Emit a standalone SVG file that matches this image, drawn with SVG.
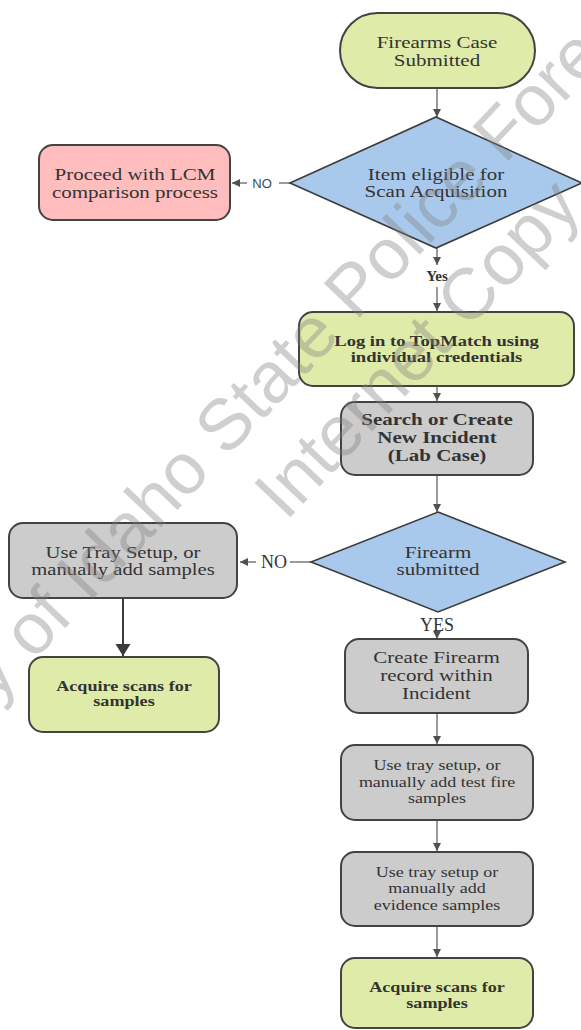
<svg xmlns="http://www.w3.org/2000/svg" width="581" height="1030" viewBox="0 0 581 1030">
<defs>
<style>
.box{stroke:#434343;stroke-width:2}
.green{fill:#dfeba8}
.gray{fill:#cccccc}
.pink{fill:#ffbdbd}
.blue{fill:#a9c9ec;stroke:#3c3c3c;stroke-width:1.6}
.t{font-family:"Liberation Serif","Times New Roman",serif;fill:#333;text-anchor:middle}
.b{font-weight:bold}
.con{stroke:#707070;stroke-width:1.4;fill:none}
.lab{font-family:"Liberation Serif","Times New Roman",serif;fill:#333;text-anchor:middle}
.wm{font-family:"Liberation Sans",Arial,sans-serif;font-size:72px;fill:#808080;fill-opacity:0.38}
</style>
<marker id="ah" markerWidth="10" markerHeight="10" refX="8" refY="4" orient="auto" markerUnits="userSpaceOnUse">
<path d="M0,0 L8,4 L0,8 Z" fill="#505050"/>
</marker>
<marker id="ahb" markerWidth="16" markerHeight="16" refX="12" refY="7.5" orient="auto" markerUnits="userSpaceOnUse">
<path d="M0,0 L12,7.5 L0,15 Z" fill="#3a3a3a"/>
</marker>
</defs>
<rect width="581" height="1030" fill="#ffffff"/>

<g id="connectors">
<line class="con" x1="437" y1="88" x2="437" y2="117" marker-end="url(#ah)"/>
<line class="con" x1="291" y1="183" x2="279" y2="183"/>
<line class="con" x1="247" y1="183" x2="232" y2="183" marker-end="url(#ah)"/>
<text class="lab" x="262" y="188" style="font-family:'Liberation Sans',Arial,sans-serif;font-size:13px;fill:#2f4a6a">NO</text>
<line class="con" x1="437" y1="248" x2="437" y2="265" marker-end="url(#ah)"/>
<text class="lab b" x="437" y="281" style="font-size:15px">Yes</text>
<line class="con" x1="437" y1="287" x2="437" y2="311" marker-end="url(#ah)"/>
<line class="con" x1="437" y1="386" x2="437" y2="401" marker-end="url(#ah)"/>
<line class="con" x1="437" y1="475" x2="437" y2="512" marker-end="url(#ah)"/>
<line class="con" x1="311" y1="562" x2="290" y2="562"/>
<line class="con" x1="256" y1="562" x2="240" y2="562" marker-end="url(#ah)"/>
<text class="lab" x="274" y="568" style="font-size:18px">NO</text>
<line x1="123" y1="598" x2="123" y2="656" stroke="#3a3a3a" stroke-width="2" marker-end="url(#ahb)"/>
<text class="lab" x="437" y="631" style="font-size:18px">YES</text>
<line class="con" x1="437" y1="632" x2="437" y2="639" marker-end="url(#ah)"/>
<line class="con" x1="437" y1="713" x2="437" y2="744" marker-end="url(#ah)"/>
<line class="con" x1="437" y1="820" x2="437" y2="851" marker-end="url(#ah)"/>
<line class="con" x1="437" y1="926" x2="437" y2="957" marker-end="url(#ah)"/>
</g>

<g id="start">
<rect class="box green" x="340" y="13" width="195" height="75" rx="37.5"/>
<g transform="translate(437 0) scale(1.2 1)">
<text class="t" x="0" y="48" font-size="17.5">Firearms Case</text>
<text class="t" x="0" y="66" font-size="17.5">Submitted</text>
</g>
</g>

<g id="eligible">
<polygon class="blue" points="436,117 582,183 436,248 290,183"/>
<g transform="translate(436 0) scale(1.2 1)">
<text class="t" x="0" y="180" font-size="17.5">Item eligible for</text>
<text class="t" x="0" y="197" font-size="17.5">Scan Acquisition</text>
</g>
</g>

<g id="lcm">
<rect class="box pink" x="39" y="145" width="191" height="75" rx="14"/>
<g transform="translate(135 0) scale(1.2 1)">
<text class="t" x="0" y="180" font-size="17.5">Proceed with LCM</text>
<text class="t" x="0" y="198" font-size="17.5">comparison process</text>
</g>
</g>

<g id="login">
<rect class="box green" x="299" y="312" width="275" height="74" rx="14"/>
<g transform="translate(436.5 0) scale(1.2 1)">
<text class="t b" x="0" y="346" font-size="15.5">Log in to TopMatch using</text>
<text class="t b" x="0" y="362" font-size="15.5">individual credentials</text>
</g>
</g>

<g id="search">
<rect class="box gray" x="341" y="402" width="192" height="73" rx="14"/>
<g transform="translate(437 0) scale(1.2 1)">
<text class="t b" x="0" y="425" font-size="17.5">Search or Create</text>
<text class="t b" x="0" y="443" font-size="17.5">New Incident</text>
<text class="t b" x="0" y="461" font-size="17.5">(Lab Case)</text>
</g>
</g>

<g id="firearm-submitted">
<polygon class="blue" points="438,512 565,562 438,612 311,562"/>
<g transform="translate(438 0) scale(1.2 1)">
<text class="t" x="0" y="558" font-size="17.5">Firearm</text>
<text class="t" x="0" y="575" font-size="17.5">submitted</text>
</g>
</g>

<g id="tray-left">
<rect class="box gray" x="9" y="523" width="228" height="75" rx="14"/>
<g transform="translate(123 0) scale(1.18 1)">
<text class="t" x="0" y="558" font-size="17.5">Use Tray Setup, or</text>
<text class="t" x="0" y="575" font-size="17.5">manually add samples</text>
</g>
</g>

<g id="acquire-left">
<rect class="box green" x="29" y="657" width="190" height="75" rx="14"/>
<g transform="translate(124 0) scale(1.21 1)">
<text class="t b" x="0" y="691" font-size="15">Acquire scans for</text>
<text class="t b" x="0" y="706" font-size="15">samples</text>
</g>
</g>

<g id="create-firearm">
<rect class="box gray" x="345" y="639" width="183" height="74" rx="14"/>
<g transform="translate(436.5 0) scale(1.2 1)">
<text class="t" x="0" y="663" font-size="17.5">Create Firearm</text>
<text class="t" x="0" y="681" font-size="17.5">record within</text>
<text class="t" x="0" y="699" font-size="17.5">Incident</text>
</g>
</g>

<g id="tray-test-fire">
<rect class="box gray" x="341" y="745" width="192" height="75" rx="14"/>
<g transform="translate(437 0) scale(1.2 1)">
<text class="t" x="0" y="770" font-size="15">Use tray setup, or</text>
<text class="t" x="0" y="787" font-size="15">manually add test fire</text>
<text class="t" x="0" y="803" font-size="15">samples</text>
</g>
</g>

<g id="tray-evidence">
<rect class="box gray" x="341" y="852" width="192" height="74" rx="14"/>
<g transform="translate(437 0) scale(1.2 1)">
<text class="t" x="0" y="877" font-size="15">Use tray setup or</text>
<text class="t" x="0" y="893" font-size="15">manually add</text>
<text class="t" x="0" y="910" font-size="15">evidence samples</text>
</g>
</g>

<g id="acquire-right">
<rect class="box green" x="341" y="958" width="192" height="70" rx="14"/>
<g transform="translate(437 0) scale(1.21 1)">
<text class="t b" x="0" y="992" font-size="15">Acquire scans for</text>
<text class="t b" x="0" y="1008" font-size="15">samples</text>
</g>
</g>

<g id="watermark">
<text class="wm" transform="translate(-96 798) rotate(-46.5)">Copy of Idaho State Police Forensic Services</text>
<text class="wm" transform="translate(286 522) rotate(-46.5)">Internet Copy</text>
</g>
</svg>
